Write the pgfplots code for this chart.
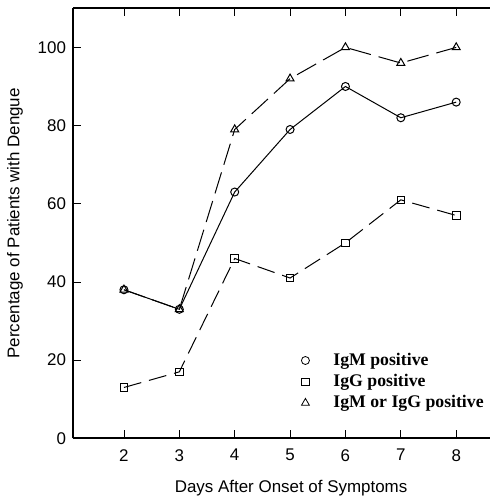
\documentclass[border=0pt]{standalone}
\usepackage{pgfplots}
\pgfplotsset{compat=1.18}
\usepackage{fontspec}
\setmainfont{Liberation Sans}
\newfontfamily\legfont{Liberation Serif}
\begin{document}
\begin{tikzpicture}
\begin{axis}[
    scale only axis,
    width=208.5bp, height=215bp,
    xmin=1.08, xmax=8.61,
    ymin=0, ymax=110,
    axis x line*=box, axis y line*=left,
    axis line style={line width=1bp},
    xtick={2,...,8}, ytick={0,20,...,100},
    tick style={black, line width=0.4bp},
    major tick length=4bp,
    tick align=inside,
    /pgf/number format/assume math mode=true,
    ticklabel style={font=\fontsize{8.5}{10}\selectfont},
    xticklabel style={yshift=-2bp},
    label style={font=\fontsize{8.5}{10}\selectfont},
    xlabel={Days After Onset of Symptoms},
    ylabel={Percentage of Patients with Dengue},
    x label style={at={(axis description cs:0.523,0)}, anchor=center, yshift=-25bp},
    y label style={at={(axis description cs:0,0.5)}, anchor=center, yshift=29bp},
    legend style={draw=none, fill=none, at={(axis cs:5.09,24)}, anchor=north west,
        font=\legfont\bfseries\fontsize{8.9}{10}\selectfont, row sep=-1bp,
        cells={anchor=west},
        /tikz/every odd column/.append style={column sep=10bp}},
    every axis plot/.append style={black, line width=0.5bp},
]
\coordinate (bl) at (rel axis cs:0,0);
\coordinate (tr) at (rel axis cs:1,1);

% IgM or IgG positive
\addplot[dash pattern=on 11bp off 4bp, mark=triangle, mark size=2.3bp,
    mark options={solid}, forget plot] coordinates {
    (2,38) (3,33) (4,79) (5,92) (6,100) (7,96) (8,100)
};
% IgM positive
\addplot[solid, mark=o, mark size=2bp, forget plot] coordinates {
    (2,38) (3,33) (4,63) (5,79) (6,90) (7,82) (8,86)
};
% IgG positive
\addplot[dash pattern=on 9bp off 4bp, mark=square, mark size=1.9bp,
    mark options={solid}, forget plot] coordinates {
    (2,13) (3,17) (4,46) (5,41) (6,50) (7,61) (8,57)
};

\addlegendimage{only marks, mark=o, mark size=2bp, black, line width=0.4bp}
\addlegendentry{IgM positive}
\addlegendimage{only marks, mark=square, mark size=1.8bp, black, line width=0.4bp}
\addlegendentry{IgG positive}
\addlegendimage{only marks, mark=triangle, mark size=2.3bp, black, line width=0.4bp}
\addlegendentry{IgM or IgG positive}
\end{axis}
\pgfresetboundingbox
\path ([xshift=-36.5bp, yshift=-30.85bp]bl) rectangle ([yshift=4.15bp]tr);
\end{tikzpicture}
\end{document}
